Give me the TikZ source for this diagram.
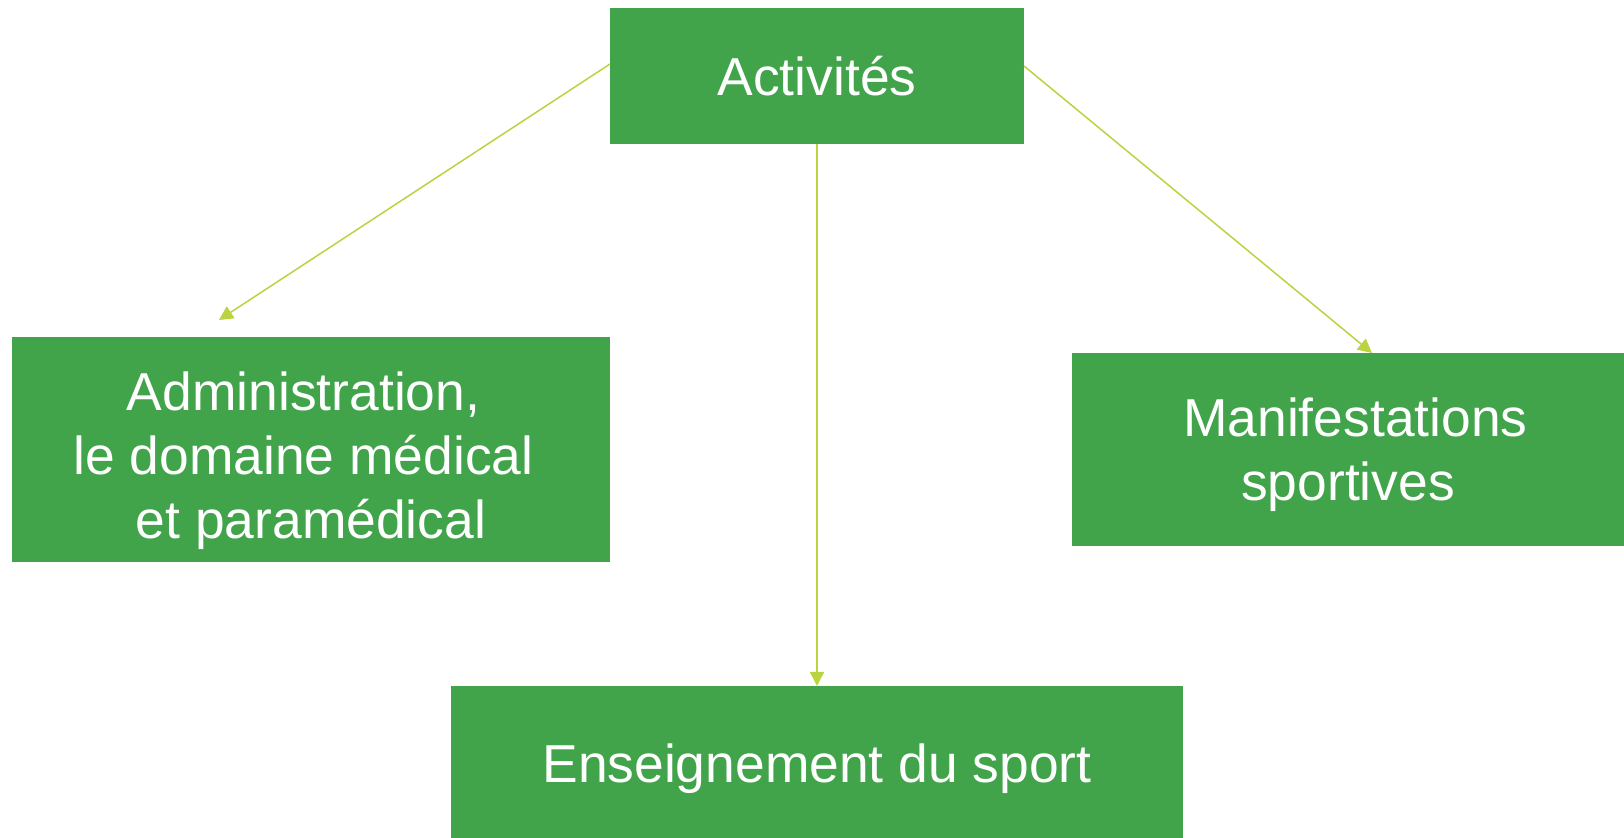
\documentclass[tikz,border=0pt]{standalone}
\usepackage{fontspec}
\setmainfont{Liberation Sans}
\usepackage{tikz}
\usetikzlibrary{arrows.meta}
\definecolor{boxgreen}{RGB}{65,164,74}
\definecolor{linkgreen}{RGB}{186,211,64}

\begin{document}
\begin{tikzpicture}[x=0.5pt,y=0.5pt,yscale=-1,xscale=1,
  box/.style={rectangle, fill=boxgreen, text=white, inner sep=0pt, outer sep=0pt,
    align=center, font=\fontsize{26.7}{32}\selectfont},
  link/.style={draw=linkgreen, line width=0.75pt, -{Triangle[length=7pt,width=7pt]}}]
\useasboundingbox (0,0) rectangle (1624,838);

% Boxes
\node [box, minimum width=207pt, minimum height=68pt] (act) at (817,76) {Activités};
\node [box, minimum width=299pt, minimum height=112.5pt] (admin) at (311,449.5)
  {\raisebox{-6pt}[\height][\depth]{\begin{tabular}{@{}c@{}}Administration,\kern0.278em\\le domaine médical\kern0.278em\\et paramédical\end{tabular}}};
\node [box, minimum width=276pt, minimum height=96.5pt] (manif) at (1348,449.5)
  {\raisebox{-3pt}[\height][\depth]{\begin{tabular}{@{}c@{}}~Manifestations\\sportives\end{tabular}}};
\node [box, minimum width=366pt, minimum height=76pt] (ens) at (817,762)
  {\raisebox{-3.5pt}[\height][\depth]{Enseignement du sport}};

%Straight Lines
\draw [link] ([yshift=-6pt]act.west) -- ([xshift=-46pt,yshift=-8.5pt]admin.north);
\draw [link] ([yshift=-5pt]act.east) -- ([xshift=12pt]manif.north);
\draw [link] (act.south) -- (ens.north);

\end{tikzpicture}
\end{document}
